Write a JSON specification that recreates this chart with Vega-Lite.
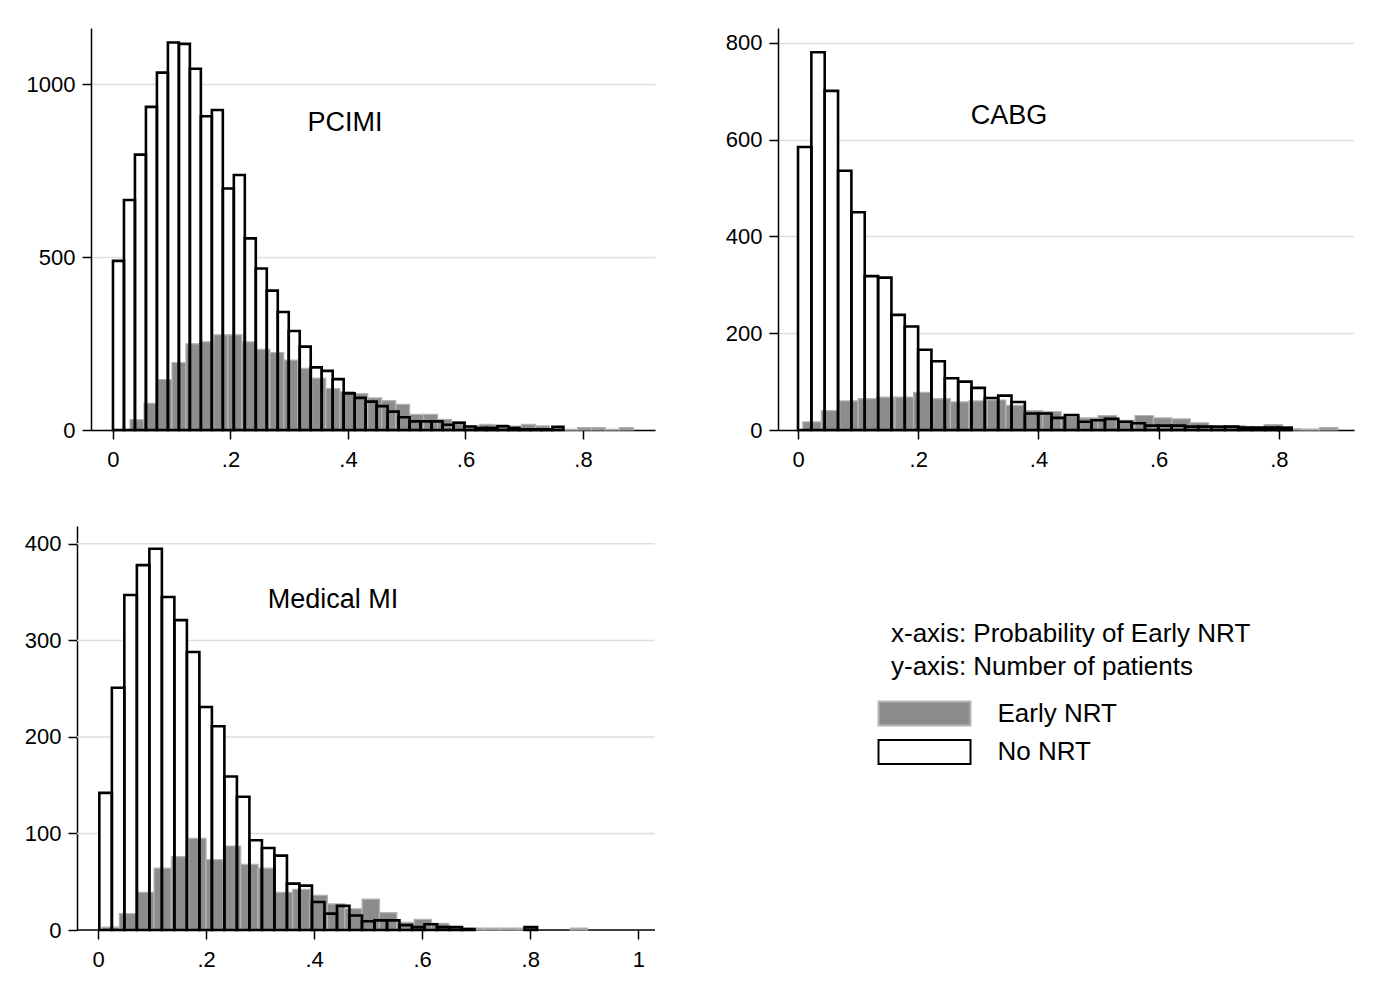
{
  "$schema": "https://vega.github.io/schema/vega-lite/v6.json",
  "background": "white",
  "padding": {"left": 24, "top": 28, "right": 5, "bottom": 5},
  "columns": 2,
  "spacing": {"row": 56, "column": 69},
  "datasets": {
    "pci_no": [
      {"a":0,"b":0.0187,"n":489},{"a":0.0187,"b":0.0374,"n":665},{"a":0.0374,"b":0.0561,"n":796},{"a":0.0561,"b":0.0748,"n":934},{"a":0.0748,"b":0.0935,"n":1033},{"a":0.0935,"b":0.1122,"n":1120},{"a":0.1122,"b":0.1309,"n":1116},{"a":0.1309,"b":0.1496,"n":1044},{"a":0.1496,"b":0.1683,"n":907},{"a":0.1683,"b":0.187,"n":925},{"a":0.187,"b":0.2057,"n":698},{"a":0.2057,"b":0.2244,"n":737},{"a":0.2244,"b":0.2431,"n":554},{"a":0.2431,"b":0.2618,"n":467},{"a":0.2618,"b":0.2805,"n":403},{"a":0.2805,"b":0.2992,"n":341},{"a":0.2992,"b":0.3179,"n":286},{"a":0.3179,"b":0.3366,"n":241},{"a":0.3366,"b":0.3553,"n":181},{"a":0.3553,"b":0.374,"n":171},{"a":0.374,"b":0.3927,"n":147},{"a":0.3927,"b":0.4114,"n":106},{"a":0.4114,"b":0.4301,"n":93},{"a":0.4301,"b":0.4488,"n":82},{"a":0.4488,"b":0.4675,"n":69},{"a":0.4675,"b":0.4862,"n":53},{"a":0.4862,"b":0.5049,"n":37},{"a":0.5049,"b":0.5236,"n":25},{"a":0.5236,"b":0.5423,"n":25},{"a":0.5423,"b":0.561,"n":25},{"a":0.561,"b":0.5797,"n":15},{"a":0.5797,"b":0.5984,"n":21},{"a":0.5984,"b":0.6171,"n":10},{"a":0.6171,"b":0.6358,"n":6},{"a":0.6358,"b":0.6545,"n":6},{"a":0.6545,"b":0.6732,"n":11},{"a":0.6732,"b":0.6919,"n":6},{"a":0.6919,"b":0.7106,"n":2},{"a":0.7106,"b":0.7293,"n":2},{"a":0.7293,"b":0.748,"n":2},{"a":0.748,"b":0.7667,"n":9}
    ],
    "pci_early": [
      {"a":0.029,"b":0.0528,"n":30},{"a":0.0528,"b":0.0766,"n":77},{"a":0.0766,"b":0.1004,"n":146},{"a":0.1004,"b":0.1242,"n":195},{"a":0.1242,"b":0.148,"n":249},{"a":0.148,"b":0.1718,"n":255},{"a":0.1718,"b":0.1956,"n":275},{"a":0.1956,"b":0.2194,"n":275},{"a":0.2194,"b":0.2432,"n":255},{"a":0.2432,"b":0.267,"n":233},{"a":0.267,"b":0.2908,"n":224},{"a":0.2908,"b":0.3146,"n":202},{"a":0.3146,"b":0.3384,"n":178},{"a":0.3384,"b":0.3622,"n":150},{"a":0.3622,"b":0.386,"n":120},{"a":0.386,"b":0.4098,"n":111},{"a":0.4098,"b":0.4336,"n":105},{"a":0.4336,"b":0.4574,"n":93},{"a":0.4574,"b":0.4812,"n":85},{"a":0.4812,"b":0.505,"n":74},{"a":0.505,"b":0.5288,"n":45},{"a":0.5288,"b":0.5526,"n":45},{"a":0.5526,"b":0.5764,"n":31},{"a":0.5764,"b":0.6002,"n":24},{"a":0.6002,"b":0.624,"n":12},{"a":0.624,"b":0.6478,"n":16},{"a":0.6478,"b":0.6716,"n":15},{"a":0.6716,"b":0.6954,"n":11},{"a":0.6954,"b":0.7192,"n":16},{"a":0.7192,"b":0.743,"n":12},{"a":0.743,"b":0.7668,"n":3},{"a":0.7668,"b":0.7906,"n":2},{"a":0.7906,"b":0.8144,"n":7},{"a":0.8144,"b":0.8382,"n":7},{"a":0.8382,"b":0.862,"n":2},{"a":0.862,"b":0.8858,"n":7}
    ],
    "cabg_no": [
      {"a":0,"b":0.0222,"n":585},{"a":0.0222,"b":0.0444,"n":781},{"a":0.0444,"b":0.0666,"n":701},{"a":0.0666,"b":0.0888,"n":536},{"a":0.0888,"b":0.111,"n":450},{"a":0.111,"b":0.1332,"n":318},{"a":0.1332,"b":0.1554,"n":315},{"a":0.1554,"b":0.1776,"n":238},{"a":0.1776,"b":0.1998,"n":214},{"a":0.1998,"b":0.222,"n":166},{"a":0.222,"b":0.2442,"n":142},{"a":0.2442,"b":0.2664,"n":107},{"a":0.2664,"b":0.2886,"n":100},{"a":0.2886,"b":0.3108,"n":87},{"a":0.3108,"b":0.333,"n":66},{"a":0.333,"b":0.3552,"n":71},{"a":0.3552,"b":0.3774,"n":58},{"a":0.3774,"b":0.3996,"n":34},{"a":0.3996,"b":0.4218,"n":34},{"a":0.4218,"b":0.444,"n":25},{"a":0.444,"b":0.4662,"n":31},{"a":0.4662,"b":0.4884,"n":17},{"a":0.4884,"b":0.5106,"n":20},{"a":0.5106,"b":0.5328,"n":23},{"a":0.5328,"b":0.555,"n":17},{"a":0.555,"b":0.5772,"n":14},{"a":0.5772,"b":0.5994,"n":9},{"a":0.5994,"b":0.6216,"n":9},{"a":0.6216,"b":0.6438,"n":9},{"a":0.6438,"b":0.666,"n":7},{"a":0.666,"b":0.6882,"n":7},{"a":0.6882,"b":0.7104,"n":7},{"a":0.7104,"b":0.7326,"n":7},{"a":0.7326,"b":0.7548,"n":5},{"a":0.7548,"b":0.777,"n":5},{"a":0.777,"b":0.7992,"n":5},{"a":0.7992,"b":0.8214,"n":5}
    ],
    "cabg_early": [
      {"a":0.008,"b":0.0387,"n":17},{"a":0.0387,"b":0.0694,"n":40},{"a":0.0694,"b":0.1001,"n":60},{"a":0.1001,"b":0.1308,"n":65},{"a":0.1308,"b":0.1615,"n":68},{"a":0.1615,"b":0.1922,"n":68},{"a":0.1922,"b":0.2229,"n":78},{"a":0.2229,"b":0.2536,"n":65},{"a":0.2536,"b":0.2843,"n":58},{"a":0.2843,"b":0.315,"n":60},{"a":0.315,"b":0.3457,"n":62},{"a":0.3457,"b":0.3764,"n":51},{"a":0.3764,"b":0.4071,"n":40},{"a":0.4071,"b":0.4378,"n":38},{"a":0.4378,"b":0.4685,"n":28},{"a":0.4685,"b":0.4992,"n":25},{"a":0.4992,"b":0.5299,"n":30},{"a":0.5299,"b":0.5606,"n":20},{"a":0.5606,"b":0.5913,"n":30},{"a":0.5913,"b":0.622,"n":25},{"a":0.622,"b":0.6527,"n":23},{"a":0.6527,"b":0.6834,"n":15},{"a":0.6834,"b":0.7141,"n":7},{"a":0.7141,"b":0.7448,"n":9},{"a":0.7448,"b":0.7755,"n":7},{"a":0.7755,"b":0.8062,"n":11},{"a":0.8062,"b":0.8369,"n":3},{"a":0.8369,"b":0.8676,"n":2},{"a":0.8676,"b":0.8983,"n":5}
    ],
    "med_no": [
      {"a":0.0024,"b":0.0256,"n":142},{"a":0.0256,"b":0.0487,"n":251},{"a":0.0487,"b":0.0719,"n":347},{"a":0.0719,"b":0.095,"n":378},{"a":0.095,"b":0.1182,"n":395},{"a":0.1182,"b":0.1413,"n":345},{"a":0.1413,"b":0.1645,"n":321},{"a":0.1645,"b":0.1876,"n":288},{"a":0.1876,"b":0.2108,"n":231},{"a":0.2108,"b":0.2339,"n":211},{"a":0.2339,"b":0.2571,"n":159},{"a":0.2571,"b":0.2802,"n":138},{"a":0.2802,"b":0.3034,"n":93},{"a":0.3034,"b":0.3265,"n":85},{"a":0.3265,"b":0.3497,"n":77},{"a":0.3497,"b":0.3728,"n":48},{"a":0.3728,"b":0.396,"n":46},{"a":0.396,"b":0.4191,"n":29},{"a":0.4191,"b":0.4423,"n":17},{"a":0.4423,"b":0.4654,"n":25},{"a":0.4654,"b":0.4886,"n":15},{"a":0.4886,"b":0.5117,"n":9},{"a":0.5117,"b":0.5349,"n":10},{"a":0.5349,"b":0.558,"n":10},{"a":0.558,"b":0.5812,"n":5},{"a":0.5812,"b":0.6043,"n":3},{"a":0.6043,"b":0.6275,"n":6},{"a":0.6275,"b":0.6506,"n":3},{"a":0.6506,"b":0.6738,"n":3},{"a":0.6738,"b":0.6969,"n":1},{"a":0.7895,"b":0.8127,"n":3}
    ],
    "med_early": [
      {"a":0.0074,"b":0.0395,"n":3},{"a":0.0395,"b":0.0716,"n":17},{"a":0.0716,"b":0.1037,"n":39},{"a":0.1037,"b":0.1358,"n":64},{"a":0.1358,"b":0.1679,"n":76},{"a":0.1679,"b":0.2,"n":95},{"a":0.2,"b":0.2321,"n":73},{"a":0.2321,"b":0.2642,"n":87},{"a":0.2642,"b":0.2963,"n":68},{"a":0.2963,"b":0.3284,"n":64},{"a":0.3284,"b":0.3605,"n":39},{"a":0.3605,"b":0.3926,"n":42},{"a":0.3926,"b":0.4247,"n":36},{"a":0.4247,"b":0.4568,"n":27},{"a":0.4568,"b":0.4889,"n":22},{"a":0.4889,"b":0.521,"n":32},{"a":0.521,"b":0.5531,"n":18},{"a":0.5531,"b":0.5852,"n":8},{"a":0.5852,"b":0.6173,"n":11},{"a":0.6173,"b":0.6494,"n":7},{"a":0.6494,"b":0.6815,"n":2},{"a":0.6815,"b":0.7136,"n":2},{"a":0.7136,"b":0.7457,"n":2},{"a":0.7457,"b":0.7778,"n":2},{"a":0.7778,"b":0.8099,"n":2},{"a":0.8742,"b":0.9062,"n":2}
    ],
    "med_grid": [{"g":100},{"g":200},{"g":300},{"g":400}]
  },
  "config": {
    "font": "Liberation Sans",
    "view": {"stroke": null},
    "axis": {"domainColor": "black", "domainWidth": 1.5, "tickColor": "black", "tickWidth": 1.5, "tickSize": 9, "labelFontSize": 22, "labelColor": "black", "labelFont": "Liberation Sans", "gridColor": "#dedede", "gridWidth": 1.5},
    "axisX": {"grid": false, "labelPadding": 10, "labelFlush": false},
    "axisY": {"grid": true, "labelPadding": 7}
  },
  "concat": [
    {
      "width": 564, "height": 402,
      "layer": [
        {
          "encoding": {
            "x": {"field": "a", "type": "quantitative", "scale": {"domain": [-0.0374, 0.9226], "nice": false, "zero": false}, "axis": {"title": null, "values": [0, 0.2, 0.4, 0.6, 0.8], "labelExpr": "datum.value == 0 ? '0' : datum.value == 1 ? '1' : replace(format(datum.value, '.1f'), '0.', '.')"}},
            "x2": {"field": "b"},
            "y": {"field": "n", "type": "quantitative", "scale": {"domain": [0, 1162], "nice": false}, "axis": {"title": null, "values": [0, 500, 1000], "format": "d"}},
            "y2": {"datum": 0}
          },
          "layer": [
            {"data": {"name": "pci_no"}, "mark": {"type": "bar", "fill": "white", "strokeWidth": 0}},
            {"data": {"name": "pci_early"}, "mark": {"type": "bar", "fill": "#8c8c8c", "stroke": "#b4b4b4", "strokeWidth": 1.2}},
            {"data": {"name": "pci_no"}, "mark": {"type": "bar", "fillOpacity": 0, "stroke": "black", "strokeWidth": 2.6}}
          ]
        },
        {"data": {"values": [{}]}, "mark": {"type": "text", "text": "PCIMI", "fontSize": 27, "color": "black", "align": "center", "baseline": "middle"},
         "encoding": {"x": {"datum": 0.395, "type": "quantitative"}, "y": {"datum": 887, "type": "quantitative"}}}
      ]
    },
    {
      "width": 576, "height": 402,
      "layer": [
        {
          "encoding": {
            "x": {"field": "a", "type": "quantitative", "scale": {"domain": [-0.0333, 0.925], "nice": false, "zero": false}, "axis": {"title": null, "values": [0, 0.2, 0.4, 0.6, 0.8], "labelExpr": "datum.value == 0 ? '0' : datum.value == 1 ? '1' : replace(format(datum.value, '.1f'), '0.', '.')"}},
            "x2": {"field": "b"},
            "y": {"field": "n", "type": "quantitative", "scale": {"domain": [0, 831], "nice": false}, "axis": {"title": null, "values": [0, 200, 400, 600, 800], "format": "d"}},
            "y2": {"datum": 0}
          },
          "layer": [
            {"data": {"name": "cabg_no"}, "mark": {"type": "bar", "fill": "white", "strokeWidth": 0}},
            {"data": {"name": "cabg_early"}, "mark": {"type": "bar", "fill": "#8c8c8c", "stroke": "#b4b4b4", "strokeWidth": 1.2}},
            {"data": {"name": "cabg_no"}, "mark": {"type": "bar", "fillOpacity": 0, "stroke": "black", "strokeWidth": 2.6}}
          ]
        },
        {"data": {"values": [{}]}, "mark": {"type": "text", "text": "CABG", "fontSize": 27, "color": "black", "align": "center", "baseline": "middle"},
         "encoding": {"x": {"datum": 0.351, "type": "quantitative"}, "y": {"datum": 649, "type": "quantitative"}}}
      ]
    },
    {
      "width": 564, "height": 404,
      "layer": [
        {"data": {"name": "med_grid"}, "mark": {"type": "rule", "color": "#dedede", "strokeWidth": 1.5},
         "encoding": {"x": {"datum": -0.0389, "type": "quantitative"}, "x2": {"datum": 1.031}, "y": {"field": "g", "type": "quantitative"}}},
        {"data": {"values": [{}]}, "mark": {"type": "rule", "color": "black", "strokeWidth": 1.5},
         "encoding": {"x": {"datum": -0.0389, "type": "quantitative"}, "x2": {"datum": 1.031}, "y": {"datum": 0, "type": "quantitative"}}},
        {
          "encoding": {
            "x": {"field": "a", "type": "quantitative", "scale": {"domain": [-0.013, 1.031], "nice": false, "zero": false}, "axis": {"title": null, "domain": false, "values": [0, 0.2, 0.4, 0.6, 0.8, 1], "labelExpr": "datum.value == 0 ? '0' : datum.value == 1 ? '1' : replace(format(datum.value, '.1f'), '0.', '.')"}},
            "x2": {"field": "b"},
            "y": {"field": "n", "type": "quantitative", "scale": {"domain": [0, 418.5], "nice": false}, "axis": {"title": null, "grid": false, "offset": 14, "values": [0, 100, 200, 300, 400], "format": "d"}},
            "y2": {"datum": 0}
          },
          "layer": [
            {"data": {"name": "med_no"}, "mark": {"type": "bar", "strokeWidth": 0},
             "encoding": {"fill": {"datum": "No NRT", "type": "nominal",
               "scale": {"domain": ["Early NRT", "No NRT"], "range": ["#8c8c8c", "#ffffff"]},
               "legend": {
                 "title": ["x-axis: Probability of Early NRT", "y-axis: Number of patients"],
                 "orient": "none", "legendX": 800, "legendY": 593,
                 "titleFontSize": 26, "titleFontWeight": "normal", "titleColor": "black", "titleFont": "Liberation Sans", "titleLineHeight": 33, "titlePadding": 20.5, "titleLimit": 700,
                 "labelFontSize": 26, "labelColor": "black", "labelFont": "Liberation Sans", "labelOffset": 60, "labelLimit": 300,
                 "rowPadding": 6.5,
                 "symbolType": "M-4,-1.04H4V1.04H-4Z", "symbolSize": 529, "symbolOffset": 20.5, "symbolOpacity": 1,
                 "encode": {"symbols": {"update": {"stroke": {"signal": "datum.value === 'No NRT' ? 'black' : '#b4b4b4'"}, "strokeWidth": {"value": 2}}}}
               }}}},
            {"data": {"name": "med_early"}, "mark": {"type": "bar", "stroke": "#b4b4b4", "strokeWidth": 1.2},
             "encoding": {"fill": {"datum": "Early NRT", "type": "nominal"}}},
            {"data": {"name": "med_no"}, "mark": {"type": "bar", "fillOpacity": 0, "stroke": "black", "strokeWidth": 2.6}}
          ]
        },
        {"data": {"values": [{}]}, "mark": {"type": "text", "text": "Medical MI", "fontSize": 27, "color": "black", "align": "center", "baseline": "middle"},
         "encoding": {"x": {"datum": 0.435, "type": "quantitative"}, "y": {"datum": 342, "type": "quantitative"}}}
      ]
    }
  ]
}
